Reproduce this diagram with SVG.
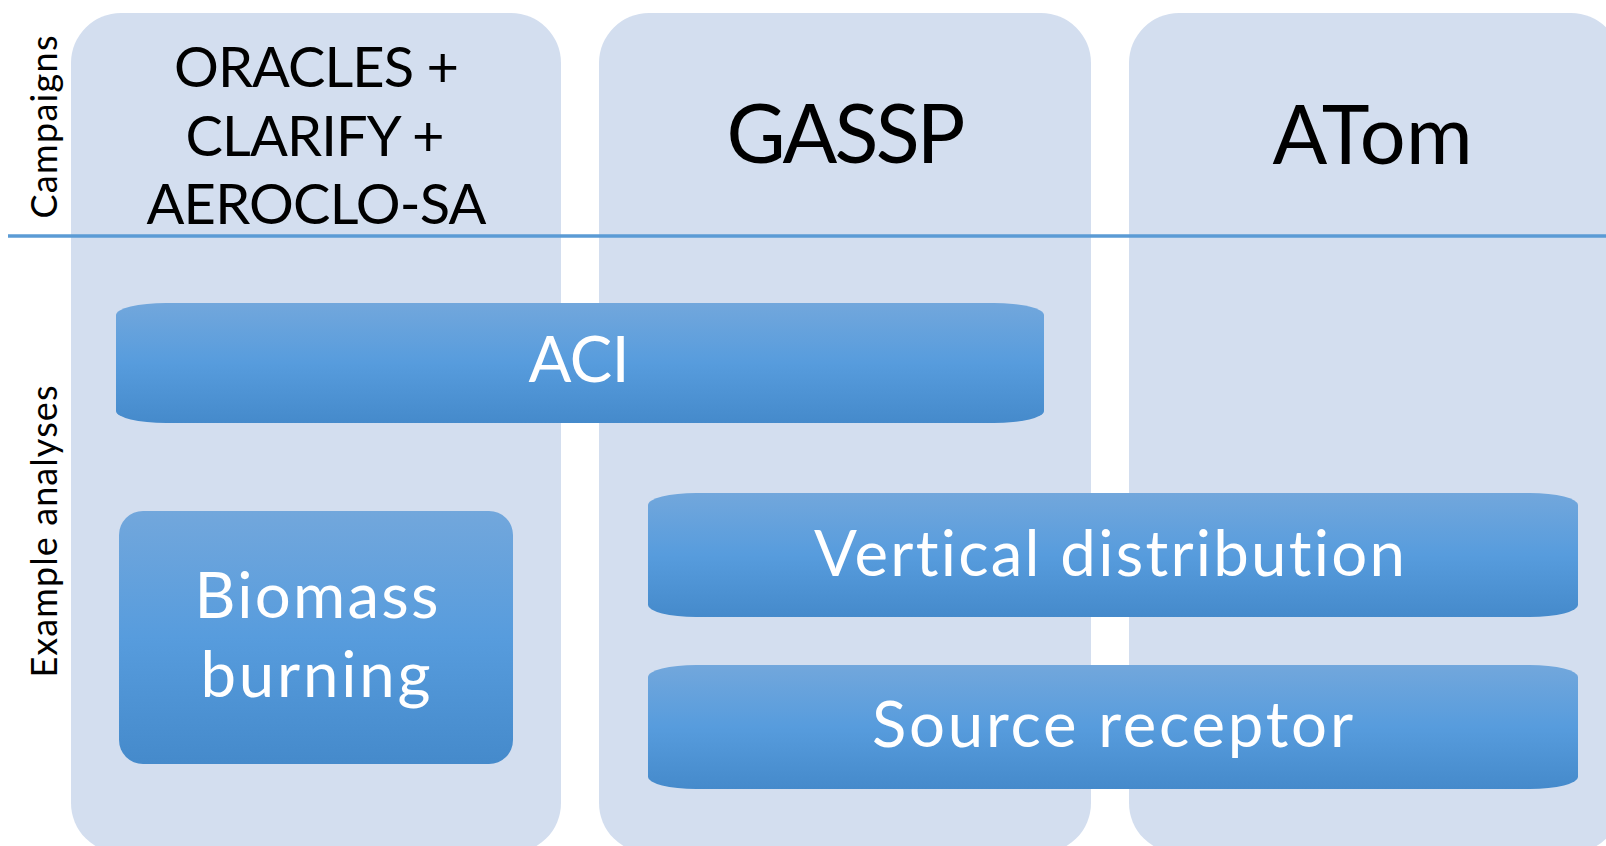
<svg xmlns="http://www.w3.org/2000/svg" width="1606" height="846" viewBox="0 0 1606 846">
  <defs>
    <linearGradient id="boxGrad" x1="0" y1="0" x2="0" y2="1">
      <stop offset="0" stop-color="#72A7DC"/>
      <stop offset="0.5" stop-color="#579CDD"/>
      <stop offset="1" stop-color="#458ACB"/>
    </linearGradient>
  </defs>
  <style>
    text { font-variant-ligatures: none; }
    .col { fill: #D3DEEF; }
    .box { fill: url(#boxGrad); }
    .camp { font-family: Lato, "Liberation Sans", sans-serif; fill: #000000; text-anchor: middle; }
    .ana { font-family: Lato, "Liberation Sans", sans-serif; fill: #FFFFFF; text-anchor: middle; font-size: 63.5px; }
    .side { font-family: Lato, "Liberation Sans", sans-serif; fill: #000000; text-anchor: middle; font-size: 36px; }
  </style>
  <rect width="1606" height="846" fill="#FFFFFF"/>

  <g id="col-oracles">
    <rect class="col" x="71" y="13" width="490" height="840" rx="50" ry="50"/>
    <text class="camp" font-size="56" x="316.5" y="87" textLength="285">ORACLES +</text>
    <text class="camp" font-size="56" x="315" y="155.5" textLength="259">CLARIFY +</text>
    <text class="camp" font-size="56" x="316.5" y="224" textLength="340">AEROCLO-SA</text>
  </g>
  <g id="col-gassp">
    <rect class="col" x="599" y="13" width="492" height="840" rx="50" ry="50"/>
    <text class="camp" font-size="81" x="846" y="163" textLength="239">GASSP</text>
  </g>
  <g id="col-atom">
    <rect class="col" x="1129" y="13" width="492" height="840" rx="50" ry="50"/>
    <text class="camp" font-size="81" x="1372.5" y="164" textLength="200">ATom</text>
  </g>

  <g id="connectors">
    <line x1="8" y1="236" x2="1606" y2="236" stroke="#5B9BD5" stroke-width="3.5"/>
  </g>

  <g id="label-campaigns">
    <text class="side" transform="translate(56.5,127) rotate(-90)" textLength="183">Campaigns</text>
  </g>
  <g id="label-analyses">
    <text class="side" transform="translate(56.5,531.5) rotate(-90)" textLength="292">Example analyses</text>
  </g>

  <g id="box-aci">
    <rect class="box" x="116" y="303" width="928" height="120" rx="50" ry="12"/>
    <text class="ana" x="579" y="382" textLength="101">ACI</text>
  </g>
  <g id="box-biomass">
    <rect class="box" x="119" y="511" width="394" height="253" rx="24" ry="24"/>
    <text class="ana" x="316.5" y="618" textLength="244">Biomass</text>
    <text class="ana" x="315.5" y="697" textLength="230">burning</text>
  </g>
  <g id="box-vertical">
    <rect class="box" x="648" y="493" width="930" height="124" rx="48" ry="12"/>
    <text class="ana" x="1109.5" y="576" textLength="591">Vertical distribution</text>
  </g>
  <g id="box-source">
    <rect class="box" x="648" y="665" width="930" height="124" rx="48" ry="12"/>
    <text class="ana" x="1112.5" y="747" textLength="481">Source receptor</text>
  </g>
</svg>
